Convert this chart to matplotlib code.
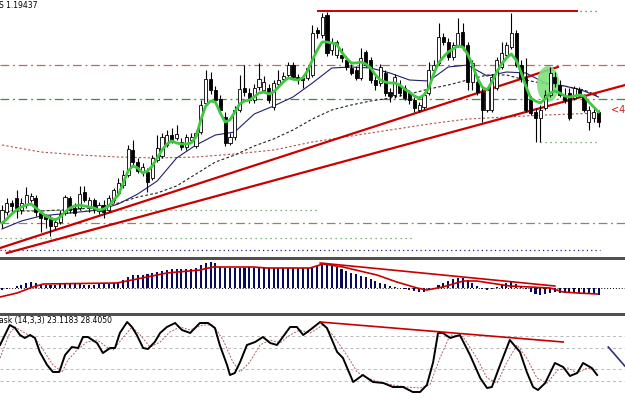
import numpy as np
import matplotlib.pyplot as plt
from matplotlib.patches import Rectangle, Ellipse

# candles (screen-scale price units, 0 = top of price window)
o = [222, 212, 203, 198, 210, 205, 200, 198, 213, 216, 219, 226, 222, 213, 198, 208, 208, 192, 208, 200,
     211, 205, 210, 200, 193, 185, 175, 150, 162, 172, 172, 178, 160, 156, 145, 135, 138, 142, 147, 140,
     146, 132, 103, 79, 90, 99, 117, 143, 137, 110, 88, 93, 100, 87, 90, 88, 107, 84, 79, 75,
     65, 77, 78, 78, 75, 30, 35, 15, 50, 55, 55, 60, 68, 70, 78, 52, 60, 80, 83, 73,
     92, 95, 85, 88, 93, 100, 110, 107, 93, 70, 63, 37, 42, 57, 45, 32, 45, 82, 82, 92,
     110, 110, 88, 67, 55, 47, 33, 65, 78, 100, 112, 118, 108, 95, 77, 85, 95, 93, 98, 90,
     97, 122, 118, 112]
h = [205, 198, 200, 190, 198, 187, 193, 195, 210, 214, 215, 218, 210, 195, 196, 203, 186, 186, 197, 198,
     202, 200, 195, 188, 178, 170, 145, 140, 158, 163, 168, 155, 135, 133, 130, 128, 125, 138, 134, 133,
     130, 100, 70, 72, 86, 95, 112, 133, 106, 75, 65, 88, 84, 63, 76, 84, 80, 70, 72, 62,
     62, 74, 75, 65, 25, 27, 13, 12, 38, 40, 48, 56, 64, 66, 48, 50, 57, 76, 64, 70,
     88, 74, 80, 85, 90, 97, 102, 92, 62, 60, 23, 33, 38, 42, 18, 23, 42, 60, 78, 88,
     88, 74, 57, 42, 42, 13, 30, 60, 58, 96, 108, 105, 90, 67, 72, 80, 88, 88, 86, 87,
     94, 106, 108, 110]
l = [228, 215, 212, 218, 214, 208, 202, 216, 232, 228, 236, 229, 224, 215, 213, 216, 210, 202, 212, 213,
     214, 218, 212, 203, 195, 188, 177, 165, 173, 176, 192, 180, 162, 158, 147, 143, 140, 150, 150, 143,
     148, 134, 106, 94, 103, 114, 146, 145, 140, 112, 96, 103, 103, 90, 92, 103, 110, 86, 82, 78,
     80, 84, 88, 80, 77, 38, 38, 56, 55, 58, 62, 70, 75, 80, 80, 67, 83, 90, 86, 96,
     102, 98, 96, 100, 104, 112, 112, 109, 95, 72, 65, 45, 60, 60, 47, 50, 90, 90, 95, 122,
     112, 112, 90, 69, 57, 49, 67, 82, 112, 115, 142, 142, 110, 97, 87, 97, 103, 120, 100, 96,
     112, 130, 122, 127]
c = [210, 203, 206, 208, 203, 195, 196, 212, 218, 219, 226, 222, 214, 197, 210, 213, 194, 200, 200, 209,
     205, 212, 198, 190, 183, 175, 149, 162, 171, 167, 182, 158, 148, 137, 135, 140, 134, 147, 137, 137,
     133, 105, 79, 90, 100, 110, 143, 137, 110, 89, 92, 100, 88, 79, 82, 100, 83, 80, 76, 65,
     77, 80, 80, 68, 33, 33, 17, 53, 42, 42, 58, 67, 73, 78, 58, 65, 80, 85, 67, 93,
     96, 77, 93, 98, 100, 108, 105, 95, 70, 65, 37, 42, 57, 45, 33, 47, 82, 63, 92, 110,
     90, 77, 60, 53, 45, 33, 65, 78, 110, 113, 118, 110, 95, 73, 83, 95, 100, 118, 88, 93,
     110, 110, 112, 122]

# moving averages
ma_fast = [223, 219, 214, 210, 207, 205, 204, 208, 212, 216, 218, 220, 217, 212, 208, 206, 205, 206, 207, 208,
           210, 209, 206, 200, 195, 183, 171, 166, 168, 173, 171, 166, 158, 150, 144, 141, 143, 144, 144, 143,
           137, 120, 106, 101, 102, 113, 122, 120, 112, 104, 101, 100, 97, 93, 92, 94, 92, 87, 82, 78,
           79, 80, 78, 71, 60, 50, 42, 42, 43, 44, 52, 58, 63, 63, 62, 64, 68, 75, 80, 82,
           83, 83, 85, 89, 92, 96, 98, 95, 88, 74, 63, 57, 52, 49, 46, 47, 54, 65, 78, 87,
           90, 82, 72, 64, 58, 54, 60, 72, 86, 98, 101, 103, 99, 93, 91, 93, 96, 97, 96, 95,
           96, 102, 107, 112]
ma_mid_x = [0, 4, 8, 12, 16, 20, 24, 28, 32, 36, 40, 44, 48, 52, 56, 60, 64, 68, 72, 76, 80, 84, 88, 92,
            96, 100, 104, 108, 112, 116, 120, 123]
ma_mid = [229, 221, 216, 214, 212, 210, 204, 194, 181, 158, 145, 135, 132, 114, 106, 97, 83, 68, 67, 68,
          73, 80, 81, 67, 65, 76, 72, 73, 83, 86, 91, 97]
ma_slow = [212, 211, 211, 210, 209, 207, 203, 197, 193, 186, 174, 162, 155, 146, 139, 130, 119, 110, 105, 101,
           98, 94, 89, 85, 80, 75, 75, 80, 84, 86, 90, 96]
ma_long_x = [0, 8, 16, 24, 32, 40, 48, 56, 64, 72, 80, 88, 96, 104, 112, 123]
ma_long = [145, 152, 155, 157, 158, 157, 154, 150, 142, 136, 130, 124, 119, 117, 115, 113]

# MACD histogram
macd_zero = 287.5
macd = [290, 289, 287.5, 286, 285, 283, 282, 283, 284, 285, 285, 285, 284, 284, 284, 284, 284, 285, 285, 285,
        284, 284, 284, 283, 282, 280, 277, 275, 275, 275, 274, 273, 272, 271, 270, 269, 269, 269, 269, 269,
        268, 265, 263, 262, 263, 267, 268, 268, 268, 268, 268, 267, 268, 268, 268, 268, 268, 268, 268, 268,
        268, 268, 268, 268, 268, 266, 264, 264, 265, 267, 269, 271, 273, 274, 276, 277, 279, 281, 283, 284,
        286, 287, 287.5, 288.5, 290, 291, 292, 292, 288.5, 288, 285, 283, 281, 279, 278, 278, 280, 283, 286, 288.5,
        289.5, 288.5, 287, 285, 283, 282, 284, 287, 288.5, 291.5, 294, 295, 294, 293, 292, 293, 293, 293, 293, 293,
        293, 293, 293, 295]
sig_x = [-0.4, 3.1, 6.4, 8.5, 23.7, 25.8, 34.0, 40.8, 43.5, 51.8, 54.6, 63.5, 66.2, 70.3, 77.3, 81.4,
         85.6, 87.6, 90.9, 95.1, 97.9, 100.6, 104.7, 108.9, 113.0, 115.7, 118.6, 122.7]
sig = [297, 293, 287, 284, 283, 281, 273, 270, 267, 267, 268, 268, 264, 267, 275, 282,
       288, 290, 287, 281, 281, 283, 286, 287, 288, 292, 293, 294]

# stochastic (14,3,3)
k_x = [-0.4, 0.6, 1.6, 2.7, 3.7, 4.7, 5.8, 6.8, 7.8, 9.3, 10.5, 11.8, 13.0, 14.4, 15.7, 16.7, 17.7, 19.6,
       20.8, 22.3, 23.3, 24.3, 25.8, 26.8, 27.8, 29.1, 30.1, 31.5, 32.6, 34.0, 35.7, 37.1, 38.8, 40.8, 42.5,
       43.9, 44.9, 46.4, 47.0, 48.0, 49.1, 50.5, 52.2, 53.8, 55.3, 56.7, 57.9, 59.4, 60.8, 62.1, 63.5, 65.6,
       67.0, 69.1, 70.3, 72.4, 74.4, 76.5, 78.6, 80.6, 82.7, 84.7, 86.2, 87.6, 88.9, 89.9, 90.9, 92.4, 94.4,
       96.5, 98.6, 100.0, 101.0, 102.7, 104.7, 106.8, 108.2, 109.5, 110.5, 112.0, 114.0, 115.7, 117.1, 118.6,
       119.8, 121.6, 122.7]
k_line = [345, 335, 325, 328, 335, 338, 335, 338, 352, 365, 372, 372, 355, 347, 348, 337, 337, 343,
          353, 348, 348, 333, 322, 327, 335, 348, 349, 342, 333, 327, 323, 330, 333, 323, 323,
          328, 345, 365, 375, 373, 362, 345, 342, 337, 343, 345, 337, 327, 327, 335, 330, 322,
          328, 352, 358, 382, 375, 382, 383, 387, 387, 392, 392, 385, 362, 333, 333, 338, 335,
          355, 378, 388, 387, 365, 340, 352, 372, 387, 390, 383, 363, 367, 376, 373,
          363, 368, 375]
d_x = [-0.4, 1.6, 2.7, 4.7, 6.8, 8.5, 10.5, 12.4, 13.6, 15.5, 17.5, 19.6, 21.6, 22.9, 24.9, 26.8, 28.5,
       30.5, 32.6, 34.6, 36.7, 38.8, 41.4, 43.5, 45.6, 47.6, 49.1, 51.1, 53.2, 55.3, 57.3, 59.4, 61.4, 63.5,
       66.2, 68.2, 71.1, 73.2, 75.3, 77.9, 80.6, 83.5, 86.2, 88.2, 90.3, 92.4, 95.1, 97.9, 100.0, 102.1,
       104.1, 106.2, 108.2, 110.3, 112.4, 114.6, 116.7, 118.6, 120.6, 122.7]
d_line = [358, 333, 327, 333, 338, 350, 365, 372, 360, 350, 342, 340, 347, 350, 338, 327, 335,
          347, 342, 332, 327, 330, 325, 325, 340, 362, 372, 362, 345, 340, 343, 335, 330, 333,
          325, 335, 355, 372, 378, 382, 385, 387, 388, 385, 358, 335, 337, 358, 378, 383,
          362, 345, 358, 378, 383, 370, 368, 373, 368, 370]
stoch_levels = [336, 348, 369, 381]

n = len(c)
xs = np.arange(n)
xlim = (-0.41, 128.45)
red = '#c80000'

fig = plt.figure(figsize=(6.25, 4), dpi=100)
fig.patch.set_facecolor('white')


def panel(y0, y1):
    ax = fig.add_axes([0, 1 - y1 / 400, 1, (y1 - y0) / 400])
    ax.set_xlim(*xlim)
    ax.set_ylim(y1, y0)
    ax.set_axis_off()
    return ax


ax = panel(0, 257)
ax2 = panel(259.5, 313)
ax3 = panel(315.5, 400)

# separators
for y0, hh in [(257, 2.5), (313, 2.5)]:
    fig.add_artist(Rectangle((0, 1 - (y0 + hh) / 400), 1, hh / 400, transform=fig.transFigure,
                             color='#505050', lw=0))

# level lines in price window
ax.axhline(65, color='#c06a50', lw=0.9, ls=(0, (7, 3, 1.5, 3)))
ax.axhline(99, color='#3c8c3c', lw=0.9, ls=(0, (7, 3, 1.5, 3)))
ax.axhline(223, color='#b07850', lw=0.9, ls=(0, (7, 3, 1.5, 3)))
ax.hlines(210, -0.4, 65.6, color='#5a9a5a', lw=0.9, ls=(0, (1, 3)))
ax.hlines(238, -0.4, 84.5, color='#5a9a5a', lw=0.9, ls=(0, (1, 3)))
ax.hlines(250, -0.4, 123.3, color='#202070', lw=0.9, ls=(0, (1, 2.5)))
ax.hlines(142, 110.9, 123.3, color='#5a9a5a', lw=0.9, ls=(0, (1, 3)))
ax.hlines(11, 65.0, 118.8, color=red, lw=1.4)
ax.hlines(11, 119.2, 123.3, color='#507050', lw=0.9, ls=(0, (1, 3)))

# moving averages
ax.plot(ma_long_x, ma_long, color='#b05050', lw=0.8, ls=(0, (2, 2)))
ax.plot(ma_mid_x, ma_slow, color='#202020', lw=0.8, ls=(0, (2.5, 2)))
ax.plot(ma_mid_x, ma_mid, color='#20206e', lw=0.8)

# trend lines
ax.plot([-0.4, 114.6], [248, 67], color=red, lw=1.6)
ax.plot([1.0, 128.5], [253, 85], color=red, lw=1.6)

ax.add_patch(Ellipse((112.6, 84), 4.6, 36, color='#7ee07e', alpha=0.9, lw=0, zorder=2.5))

# candles
for i in range(n):
    ax.vlines(xs[i], h[i], l[i], color='black', lw=0.8, zorder=3)
    top, bot = min(o[i], c[i]), max(o[i], c[i])
    face = 'white' if c[i] < o[i] else 'black'
    ax.add_patch(Rectangle((xs[i] - 0.32, top), 0.64, max(bot - top, 0.8),
                           facecolor=face, edgecolor='black', lw=0.6, zorder=4))

ax.plot(xs, ma_fast, color='#3ec83e', lw=2.0, zorder=5)

ax.text(-0.6, 5, 'S 1.19437', fontsize=5.5, va='center', ha='left')
ax.text(125.6, 110, '<4', fontsize=7, color='#d02020', va='center', ha='left')

# MACD
ax2.axhline(macd_zero, color='black', lw=0.7, ls=(0, (1, 2)))
ax2.bar(xs, np.array(macd) - macd_zero, bottom=macd_zero, width=0.42, color='#0a0a5a', lw=0)
ax2.plot(sig_x, sig, color=red, lw=1.2)
ax2.plot([65.6, 114.0], [263, 286], color=red, lw=1.2)

# stochastic
for lv in stoch_levels:
    ax3.axhline(lv, color='#b8b8b8', lw=0.7, ls=(0, (3, 3)))
ax3.plot(d_x, d_line, color='#b06060', lw=0.7, ls=(0, (2, 1.5)))
ax3.plot(k_x, k_line, color='black', lw=1.4)
ax3.plot([65.6, 115.7], [322, 342], color=red, lw=1.2)
ax3.plot([125.0, 128.4], [347, 366], color='#30307a', lw=1.2)
ax3.text(-0.6, 321, 'ask (14,3,3) 23.1183 28.4050', fontsize=5.5, va='center', ha='left')

fig.savefig('out.png', dpi=100)
